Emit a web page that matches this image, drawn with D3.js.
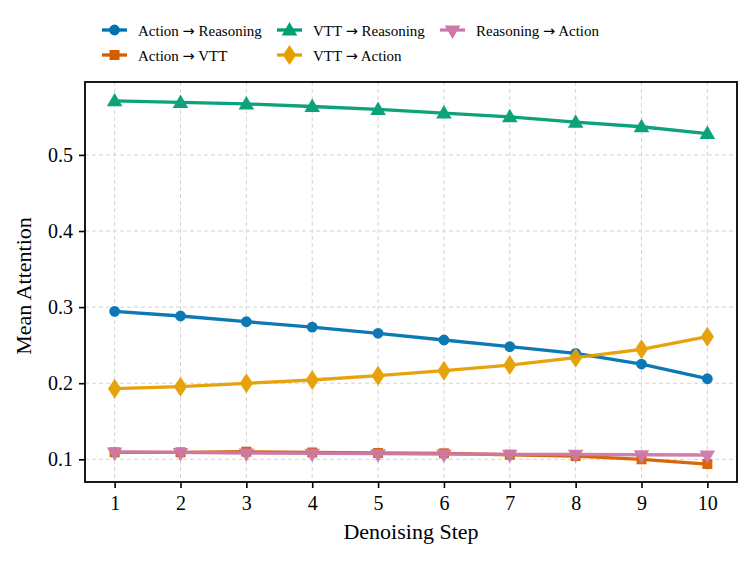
<!DOCTYPE html>
<html>
<head>
<meta charset="utf-8">
<script src="https://cdn.jsdelivr.net/npm/d3@7"></script>
<style>
  body { margin: 0; background: #fff; }
  svg { display: block; font-family: "Liberation Serif", "DejaVu Serif", serif; }
  .legend text { white-space: pre; }
</style>
</head>
<body>
<svg id="chart" width="753" height="561"></svg>
<script>
// data
const steps = [1, 2, 3, 4, 5, 6, 7, 8, 9, 10];
const yTicks = [0.1, 0.2, 0.3, 0.4, 0.5];

const actionToReasoning = [0.2945, 0.2883, 0.2808, 0.2738, 0.2656, 0.2568, 0.2480, 0.2393, 0.2252, 0.2059];
const actionToVtt = [0.1092, 0.1092, 0.1100, 0.1090, 0.1083, 0.1079, 0.1060, 0.1043, 0.1000, 0.0938];
const vttToReasoning = [0.5710, 0.5690, 0.5670, 0.5636, 0.5597, 0.5550, 0.5500, 0.5430, 0.5370, 0.5280];
const vttToAction = [0.1928, 0.1954, 0.1999, 0.2042, 0.2099, 0.2165, 0.2239, 0.2335, 0.2445, 0.2611];
const reasoningToAction = [0.1096, 0.1090, 0.1083, 0.1080, 0.1074, 0.1070, 0.1066, 0.1066, 0.1060, 0.1057];

const series = [
  { from: "Action", to: "Reasoning", values: actionToReasoning, color: "#0072B2", marker: "circle" },
  { from: "Action", to: "VTT", values: actionToVtt, color: "#D55E00", marker: "square" },
  { from: "VTT", to: "Reasoning", values: vttToReasoning, color: "#009E73", marker: "triangle" },
  { from: "VTT", to: "Action", values: vttToAction, color: "#E69F00", marker: "diamond" },
  { from: "Reasoning", to: "Action", values: reasoningToAction, color: "#CC79A7", marker: "down" }
];

const svg = d3.select("#chart");
const plot = { left: 85, top: 82, right: 737, bottom: 482 };

const x = d3.scaleLinear().domain([0.55, 10.45]).range([plot.left, plot.right]);
const y = d3.scaleLinear().domain([0.0702, 0.5958]).range([plot.bottom, plot.top]);

let markerPath = (type) => {
  let sym = {
    circle: d3.symbol(d3.symbolCircle, 92),
    square: d3.symbol(d3.symbolSquare, 100),
    triangle: d3.symbol(d3.symbolTriangle, 105),
    diamond: d3.symbol(d3.symbolDiamond, 115),
    down: d3.symbol(d3.symbolTriangle, 105)
  }[type];
  return sym();
};
let markerTransform = (type, px, py) =>
  type === "down" ? `translate(${px},${py}) rotate(180)` :
  type === "triangle" ? `translate(${px},${py + 1})` :
  type === "diamond" ? `translate(${px},${py}) scale(1.15,1)` :
  `translate(${px},${py})`;

// grid
const grid = svg.append("g").attr("stroke", "#d4d4d4").attr("stroke-width", 1).attr("stroke-dasharray", "4,3");
grid.selectAll(".gx").data(steps).enter().append("line")
  .attr("x1", (d) => x(d)).attr("x2", (d) => x(d))
  .attr("y1", plot.top).attr("y2", plot.bottom);
grid.selectAll(".gy").data(yTicks).enter().append("line")
  .attr("x1", plot.left).attr("x2", plot.right)
  .attr("y1", (d) => y(d)).attr("y2", (d) => y(d));

// lines and markers
const line = d3.line().x((d, i) => x(steps[i])).y((d) => y(d));
series.forEach((s) => {
  let g = svg.append("g").attr("opacity", 0.95);
  g.append("path")
    .datum(s.values)
    .attr("d", line)
    .attr("fill", "none")
    .attr("stroke", s.color)
    .attr("stroke-width", 3.3);
  g.selectAll("path.m").data(s.values).enter().append("path")
    .attr("class", "m")
    .attr("d", markerPath(s.marker))
    .attr("transform", (d, i) => markerTransform(s.marker, x(steps[i]), y(d)))
    .attr("fill", s.color);
});

// axes
const xAxis = svg.append("g")
  .attr("transform", `translate(0,${plot.bottom})`)
  .call(d3.axisBottom(x).tickValues(steps).tickSize(6).tickPadding(8).tickFormat(d3.format("d")));
const yAxis = svg.append("g")
  .attr("transform", `translate(${plot.left},0)`)
  .call(d3.axisLeft(y).tickValues(yTicks).tickSize(6).tickPadding(6).tickFormat(d3.format(".1f")));
[xAxis, yAxis].forEach((a) => {
  a.select(".domain").remove();
  a.selectAll(".tick line").attr("stroke", "#000").attr("stroke-width", 1.6);
  a.selectAll(".tick text").attr("fill", "#000").attr("font-size", 20)
    .attr("font-family", "Liberation Serif, serif");
});

svg.append("rect")
  .attr("x", plot.left).attr("y", plot.top)
  .attr("width", plot.right - plot.left).attr("height", plot.bottom - plot.top)
  .attr("fill", "none").attr("stroke", "#000").attr("stroke-width", 1.8);

// axis titles
svg.append("text")
  .attr("x", (plot.left + plot.right) / 2).attr("y", 539)
  .attr("text-anchor", "middle").attr("font-size", 22)
  .text("Denoising Step");
svg.append("text")
  .attr("transform", `translate(31,${(plot.top + plot.bottom) / 2 + 4}) rotate(-90)`)
  .attr("text-anchor", "middle").attr("font-size", 22)
  .text("Mean Attention");

// legend, column-major with three columns
const legendCols = [102, 277, 440];
const legendRows = [30, 55];
const legend = svg.append("g").attr("class", "legend");
series.forEach((s, i) => {
  let lx = legendCols[Math.floor(i / 2)];
  let ly = legendRows[i % 2];
  let item = legend.append("g");
  item.append("line")
    .attr("x1", lx).attr("x2", lx + 25).attr("y1", ly).attr("y2", ly)
    .attr("stroke", s.color).attr("stroke-width", 3.3);
  item.append("path")
    .attr("d", markerPath(s.marker))
    .attr("transform", markerTransform(s.marker, lx + 12.5, ly))
    .attr("fill", s.color);
  let t = item.append("text")
    .attr("x", lx + 36).attr("y", ly + 5.5)
    .attr("font-size", 15);
  t.append("tspan").text(s.from + " ");
  t.append("tspan").attr("font-family", "DejaVu Sans").attr("font-size", 14.5).text("\u2192");
  t.append("tspan").text(" " + s.to);
});
</script>
</body>
</html>
